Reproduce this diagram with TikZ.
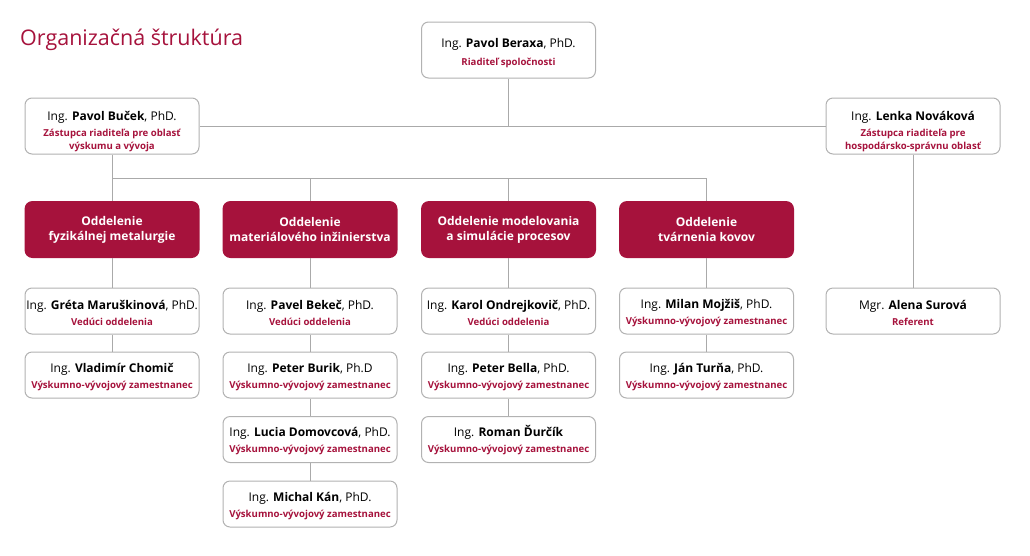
\documentclass[tikz,border=0pt]{standalone}
\usepackage{fontspec}
\setmainfont{Open Sans}
\definecolor{brand}{RGB}{166,18,60}
\definecolor{boxline}{RGB}{178,178,178}
\definecolor{conn}{RGB}{170,170,170}
\newcommand{\nm}[2][13pt]{{\fontsize{12}{14}\selectfont\rule{0pt}{#1}#2}}
\newcommand{\rl}[1]{{\fontsize{9.6}{11}\selectfont\bfseries\color{brand}#1}}
\tikzset{
  pbox/.style={draw=boxline, line width=1pt, rounded corners=7pt, fill=white,
    minimum width=174pt, minimum height=46pt, align=center, inner sep=0pt, text=black},
  bigbox/.style={pbox, minimum height=56pt},
  dbox/.style={fill=brand, rounded corners=8pt, minimum width=175pt, minimum height=57pt,
    align=center, inner sep=0pt, text=white, font=\fontsize{12}{15}\selectfont\bfseries},
  link/.style={draw=conn, line width=1pt}
}
\begin{document}
\begin{tikzpicture}[x=1pt,y=-1pt]
\useasboundingbox (0,0) rectangle (1030,555);
\node[anchor=base west, text=brand, font=\fontsize{21.5}{24}\selectfont, inner sep=0pt] (title) at (20,45) {Organizačná štruktúra};

\node[bigbox] (top) at (508.5,50) {\nm[15pt]{Ing. \textbf{Pavol Beraxa}, PhD.}\\[6pt]\rl{Riaditeľ spoločnosti}};
\node[bigbox] (buc) at (112,126) {\nm[20pt]{Ing. \textbf{Pavol Buček}, PhD.}\\[4pt]\rl{Zástupca riaditeľa pre oblasť}\\[1pt]\rl{výskumu a vývoja}};
\node[bigbox] (nov) at (913,126) {\nm[20pt]{Ing. \textbf{Lenka Nováková}}\\[4pt]\rl{Zástupca riaditeľa pre}\\[1pt]\rl{hospodársko-správnu oblasť}};

\node[dbox] (d1) at (112,229.5) {Oddelenie\\fyzikálnej metalurgie};
\node[dbox] (d2) at (310,229.5) {Oddelenie\\materiálového inžinierstva};
\node[dbox] (d3) at (508.5,229.5) {Oddelenie modelovania\\a simulácie procesov};
\node[dbox] (d4) at (706.5,229.5) {Oddelenie\\tvárnenia kovov};

\node[pbox] (p11) at (112,311) {\nm{Ing. \textbf{Gréta Maruškinová}, PhD.}\\[4pt]\rl{Vedúci oddelenia}};
\node[pbox] (p12) at (112,375) {\nm{Ing. \textbf{Vladimír Chomič}}\\[4pt]\rl{Výskumno-vývojový zamestnanec}};

\node[pbox] (p21) at (310,311) {\nm{Ing. \textbf{Pavel Bekeč}, PhD.}\\[4pt]\rl{Vedúci oddelenia}};
\node[pbox] (p22) at (310,375) {\nm{Ing. \textbf{Peter Burik}, Ph.D}\\[4pt]\rl{Výskumno-vývojový zamestnanec}};
\node[pbox] (p23) at (310,439.5) {\nm{Ing. \textbf{Lucia Domovcová}, PhD.}\\[4pt]\rl{Výskumno-vývojový zamestnanec}};
\node[pbox] (p24) at (310,504) {\nm{Ing. \textbf{Michal Kán}, PhD.}\\[4pt]\rl{Výskumno-vývojový zamestnanec}};

\node[pbox] (p31) at (508.5,311) {\nm{Ing. \textbf{Karol Ondrejkovič}, PhD.}\\[4pt]\rl{Vedúci oddelenia}};
\node[pbox] (p32) at (508.5,375) {\nm{Ing. \textbf{Peter Bella}, PhD.}\\[4pt]\rl{Výskumno-vývojový zamestnanec}};
\node[pbox] (p33) at (508.5,439.5) {\nm{Ing. \textbf{Roman Ďurčík}}\\[4pt]\rl{Výskumno-vývojový zamestnanec}};

\node[pbox] (p41) at (706.5,311) {\nm{Ing. \textbf{Milan Mojžiš}, PhD.}\\[4pt]\rl{Výskumno-vývojový zamestnanec}};
\node[pbox] (p42) at (706.5,375) {\nm{Ing. \textbf{Ján Turňa}, PhD.}\\[4pt]\rl{Výskumno-vývojový zamestnanec}};

\node[pbox] (p51) at (913,311) {\nm{Mgr. \textbf{Alena Surová}}\\[4pt]\rl{Referent}};

\coordinate (bus) at (0,178);
\draw[link] (buc.east) -- (nov.west);
\draw[link] (top.south) -- (top.south |- buc.east);
\draw[link] (buc.south) -- (d1.north);
\draw[link] (buc.south |- bus) -| (d4.north);
\draw[link] (d2.north |- bus) -- (d2.north);
\draw[link] (d3.north |- bus) -- (d3.north);
\draw[link] (nov.south) -- (p51.north);
\draw[link] (d1.south) -- (p11.north);
\draw[link] (p11.south) -- (p12.north);
\draw[link] (d2.south) -- (p21.north);
\draw[link] (p21.south) -- (p22.north);
\draw[link] (p22.south) -- (p23.north);
\draw[link] (p23.south) -- (p24.north);
\draw[link] (d3.south) -- (p31.north);
\draw[link] (p31.south) -- (p32.north);
\draw[link] (p32.south) -- (p33.north);
\draw[link] (d4.south) -- (p41.north);
\draw[link] (p41.south) -- (p42.north);
\end{tikzpicture}
\end{document}
